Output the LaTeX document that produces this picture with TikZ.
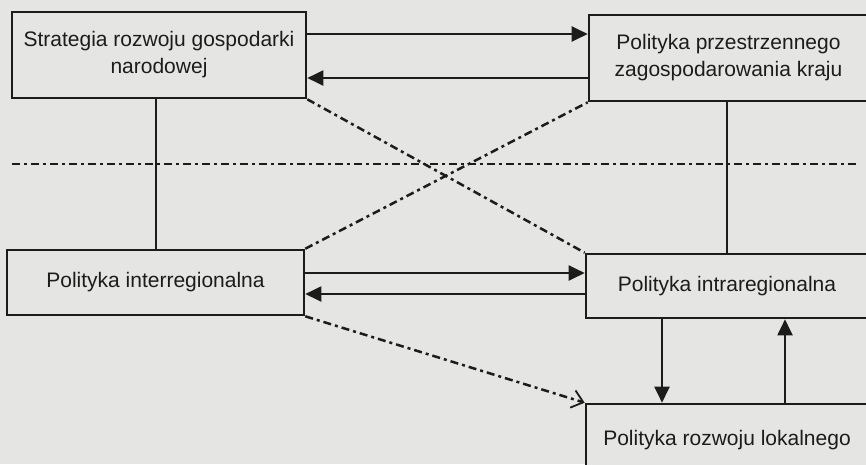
\documentclass[tikz,border=0pt]{standalone}
\usepackage{fontspec}
\setmainfont{Liberation Sans}
\usetikzlibrary{arrows.meta}
\definecolor{bgc}{RGB}{229,229,227}
\definecolor{ink}{RGB}{28,28,28}
\begin{document}
\begin{tikzpicture}[x=1pt,y=-1pt,
  box/.style={draw=ink,line width=2.6pt,fill=bgc,inner sep=0pt,align=center,
    text=ink,font=\fontsize{21}{27}\selectfont},
  link/.style={draw=ink,line width=2pt},
  arr/.style={link,-{Triangle[length=16pt,width=15pt]}},
  dd/.style={draw=ink,line width=2.5pt,dash pattern=on 8pt off 4pt on 3pt off 4pt},
  barb/.style={dd,-{Straight Barb[length=11pt,width=18pt,line width=1.8pt]}}]
\fill[bgc] (0,0) rectangle (866,464);
\useasboundingbox (0,0) rectangle (866,464);
% boxes
\node[box,minimum width=294pt,minimum height=86pt] (b1) at (159,55)
  {Strategia rozwoju gospodarki\\narodowej};
\node[box,minimum width=279pt,minimum height=86pt] (b2) at (728.5,58)
  {Polityka przestrzennego\\zagospodarowania kraju};
\node[box,minimum width=297pt,minimum height=65pt] (b3) at (155.5,282.5)
  {Polityka interregionalna};
\node[box,minimum width=282pt,minimum height=64pt] (b4) at (727,286)
  {Polityka intraregionalna};
\node[box,minimum width=282pt,minimum height=72pt] (b5) at (727,440)
  {Polityka rozwoju lokalnego};
% dash-dot separator
\coordinate (sepL) at (12,164);
\coordinate (sepR) at (856,164);
\draw[dd] (sepL) -- (sepR);
% vertical plain links
\draw[link] (b1.south -| 156,0) -- (b3.north -| 156,0);
\draw[link] (b2.south -| 727,0) -- (b4.north -| 727,0);
% horizontal arrows top
\draw[arr] (b1.east |- 0,34) -- (b2.west |- 0,34);
\draw[arr] (b2.west |- 0,78) -- (b1.east |- 0,78);
% horizontal arrows middle
\draw[arr] (b3.east |- 0,273) -- (b4.west |- 0,273);
\draw[arr] (b4.west |- 0,294) -- (b3.east |- 0,294);
% vertical arrows bottom
\draw[arr] (b4.south -| 662,0) -- (b5.north -| 662,0);
\draw[arr] (b5.north -| 785,0) -- (b4.south -| 785,0);
% diagonals
\draw[dd] (b1.south east) -- (b4.north west);
\draw[dd] (b3.north east) -- (b2.south west);
\draw[barb] (b3.south east) -- (b5.north west);
\end{tikzpicture}
\end{document}
